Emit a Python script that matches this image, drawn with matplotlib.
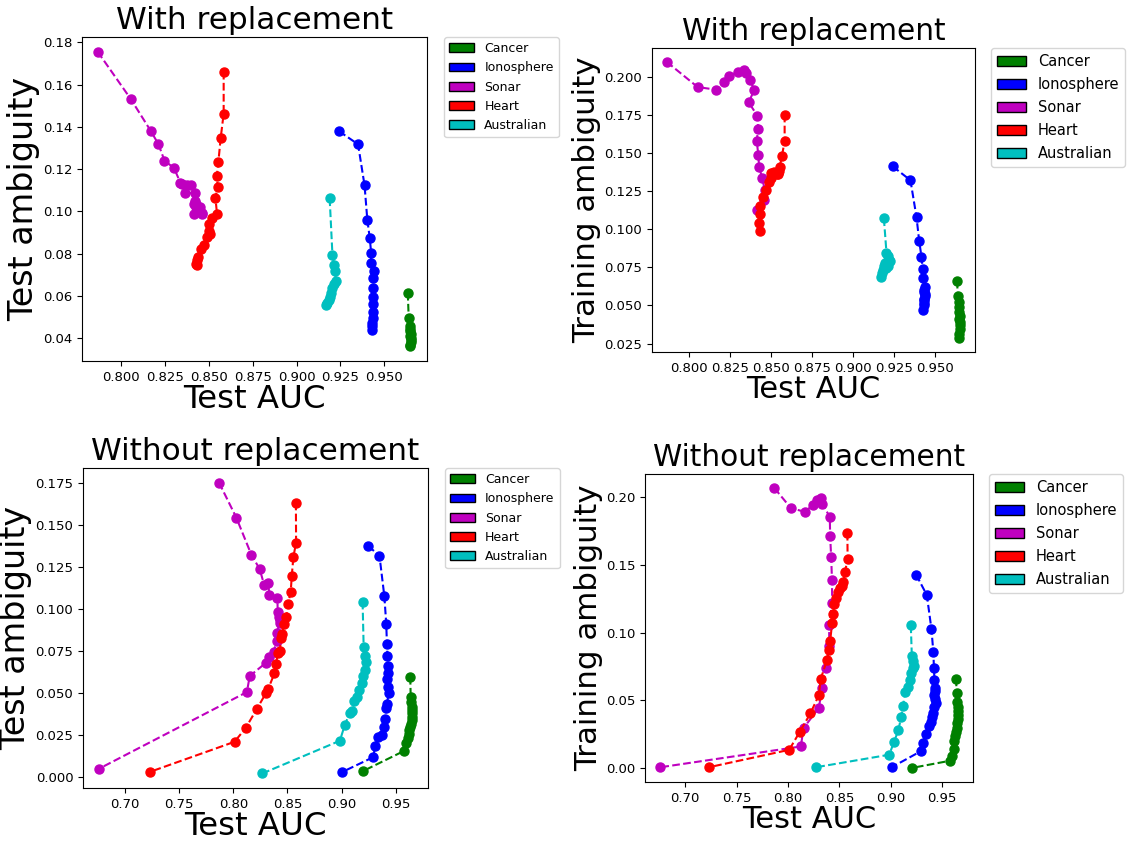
import matplotlib
matplotlib.use("Agg")
import matplotlib.pyplot as plt
import matplotlib.patches as mpatches

# ---- With replacement: test AUC, test ambiguity, training ambiguity ----
cancer_auc_wr = [0.9635, 0.9640, 0.9645, 0.9648, 0.9650, 0.9652, 0.9650, 0.9652, 0.9655, 0.9652, 0.9650, 0.9648]
cancer_test_wr = [0.0615, 0.0495, 0.0460, 0.0445, 0.0432, 0.0420, 0.0410, 0.0400, 0.0390, 0.0380, 0.0370, 0.0362]
cancer_train_wr = [0.0662, 0.0561, 0.0520, 0.0490, 0.0460, 0.0430, 0.0410, 0.0390, 0.0370, 0.0345, 0.0315, 0.0285]

iono_auc_wr = [0.9242, 0.9351, 0.9388, 0.9404, 0.9418, 0.9426, 0.9425, 0.9440, 0.9436, 0.9434, 0.9437,
               0.9438, 0.9434, 0.9436, 0.9433, 0.9432, 0.9430]
iono_test_wr = [0.1380, 0.1318, 0.1124, 0.0960, 0.0873, 0.0802, 0.0757, 0.0719, 0.0683, 0.0636, 0.0596,
                0.0561, 0.0525, 0.0498, 0.0470, 0.0457, 0.0438]
iono_train_wr = [0.1414, 0.1322, 0.1079, 0.0926, 0.0821, 0.0740, 0.0677, 0.0622, 0.0600, 0.0590, 0.0575,
                 0.0565, 0.0545, 0.0535, 0.0515, 0.0504, 0.0469]

sonar_auc_wr = [0.7865, 0.8054, 0.8168, 0.8212, 0.8246, 0.8301, 0.8337, 0.8349, 0.8373, 0.8399, 0.8365,
                0.8418, 0.8422, 0.8414, 0.8424, 0.8428, 0.8448, 0.8462, 0.8460, 0.8414]
sonar_test_wr = [0.1756, 0.1532, 0.1381, 0.1318, 0.1241, 0.1205, 0.1136, 0.1130, 0.1126, 0.1126, 0.1086,
                 0.1089, 0.1051, 0.1035, 0.1022, 0.1035, 0.1022, 0.0988, 0.0995, 0.0988]
sonar_train_wr = [0.2100, 0.1934, 0.1917, 0.1965, 0.2010, 0.2033, 0.2048, 0.2026, 0.1978, 0.1917, 0.1833,
                  0.1746, 0.1659, 0.1578, 0.1486, 0.1410, 0.1335, 0.1261, 0.1191, 0.1130]

heart_auc_wr = [0.8584, 0.8584, 0.8567, 0.8554, 0.8545, 0.8550, 0.8537, 0.8546, 0.8518, 0.8498, 0.8498,
                0.8508, 0.8489, 0.8470, 0.8455, 0.8436, 0.8432, 0.8428, 0.8434]
heart_test_wr = [0.1661, 0.1463, 0.1348, 0.1236, 0.1167, 0.1117, 0.1065, 0.0988, 0.0971, 0.0941, 0.0907,
                 0.0892, 0.0878, 0.0841, 0.0824, 0.0786, 0.0770, 0.0750, 0.0746]
heart_train_wr = [0.1753, 0.1578, 0.1479, 0.1410, 0.1370, 0.1385, 0.1365, 0.1360, 0.1377, 0.1370, 0.1340,
                  0.1355, 0.1309, 0.1261, 0.1213, 0.1156, 0.1103, 0.1042, 0.0992]

aus_auc_wr = [0.9189, 0.9205, 0.9216, 0.9220, 0.9224, 0.9212, 0.9205, 0.9197, 0.9190, 0.9183, 0.9175, 0.9170]
aus_test_wr = [0.1062, 0.0792, 0.0745, 0.0719, 0.0672, 0.0656, 0.0636, 0.0612, 0.0595, 0.0580, 0.0568, 0.0558]
aus_train_wr = [0.1072, 0.0845, 0.0823, 0.0800, 0.0790, 0.0757, 0.0747, 0.0780, 0.0760, 0.0736, 0.0710, 0.0688]

# ---- Without replacement ----
cancer_auc_nr = [0.9636, 0.9640, 0.9645, 0.9650, 0.9655, 0.9655, 0.9652, 0.9648, 0.9642, 0.9635, 0.9628,
                 0.9620, 0.9611, 0.9595, 0.9580, 0.9202]
cancer_test_nr = [0.0597, 0.0475, 0.0450, 0.0420, 0.0400, 0.0380, 0.0360, 0.0341, 0.0320, 0.0301, 0.0280,
                  0.0261, 0.0232, 0.0202, 0.0158, 0.0039]
cancer_train_nr = [0.0662, 0.0553, 0.0485, 0.0450, 0.0420, 0.0390, 0.0362, 0.0330, 0.0300, 0.0270, 0.0239,
                   0.0200, 0.0140, 0.0090, 0.0055, 0.0001]

iono_auc_nr = [0.9246, 0.9351, 0.9396, 0.9414, 0.9420, 0.9425, 0.9432, 0.9430, 0.9424, 0.9432, 0.9436,
               0.9420, 0.9414, 0.9400, 0.9390, 0.9375, 0.9340, 0.9310, 0.9295, 0.9008]
iono_test_nr = [0.1374, 0.1316, 0.1077, 0.0911, 0.0792, 0.0722, 0.0661, 0.0618, 0.0582, 0.0538, 0.0499,
                0.0436, 0.0410, 0.0345, 0.0301, 0.0250, 0.0241, 0.0186, 0.0121, 0.0033]
iono_train_nr = [0.1430, 0.1278, 0.1025, 0.0858, 0.0743, 0.0651, 0.0595, 0.0570, 0.0540, 0.0509, 0.0478,
                 0.0448, 0.0410, 0.0379, 0.0340, 0.0312, 0.0251, 0.0185, 0.0126, 0.0006]

sonar_auc_nr = [0.7867, 0.8027, 0.8166, 0.8243, 0.8285, 0.8323, 0.8332, 0.8407, 0.8410, 0.8420, 0.8428,
                0.8430, 0.8400, 0.8402, 0.8372, 0.8332, 0.8300, 0.8151, 0.8125, 0.6754]
sonar_test_nr = [0.1750, 0.1542, 0.1322, 0.1237, 0.1142, 0.1156, 0.1081, 0.1065, 0.0984, 0.0954, 0.0935,
                 0.0915, 0.0859, 0.0811, 0.0746, 0.0716, 0.0680, 0.0602, 0.0507, 0.0051]
sonar_train_nr = [0.2069, 0.1922, 0.1892, 0.1946, 0.1978, 0.1996, 0.1954, 0.1856, 0.1718, 0.1561, 0.1393,
                  0.1222, 0.1057, 0.0902, 0.0743, 0.0590, 0.0445, 0.0295, 0.0160, 0.0006]

heart_auc_nr = [0.8578, 0.8580, 0.8555, 0.8540, 0.8530, 0.8505, 0.8490, 0.8470, 0.8450, 0.8440, 0.8430,
                0.8410, 0.8395, 0.8380, 0.8320, 0.8300, 0.8218, 0.8115, 0.8011, 0.7227]
heart_test_nr = [0.1631, 0.1394, 0.1309, 0.1196, 0.1099, 0.1029, 0.0954, 0.0911, 0.0851, 0.0826, 0.0752,
                 0.0737, 0.0673, 0.0618, 0.0523, 0.0499, 0.0408, 0.0295, 0.0212, 0.0033]
heart_train_nr = [0.1738, 0.1548, 0.1447, 0.1374, 0.1344, 0.1332, 0.1300, 0.1260, 0.1209, 0.1140, 0.1074,
                  0.0937, 0.0870, 0.0799, 0.0662, 0.0539, 0.0404, 0.0268, 0.0135, 0.0006]

aus_auc_nr = [0.9195, 0.9205, 0.9215, 0.9225, 0.9215, 0.9200, 0.9185, 0.9165, 0.9140, 0.9120, 0.9100,
              0.9075, 0.9030, 0.8985, 0.8268]
aus_test_nr = [0.1043, 0.0772, 0.0720, 0.0683, 0.0640, 0.0600, 0.0560, 0.0519, 0.0475, 0.0455, 0.0396,
               0.0380, 0.0311, 0.0218, 0.0024]
aus_train_nr = [0.1054, 0.0828, 0.0791, 0.0754, 0.0743, 0.0700, 0.0651, 0.0600, 0.0563, 0.0460, 0.0374,
                0.0283, 0.0190, 0.0099, 0.0006]

dataset_names = ["Cancer", "Ionosphere", "Sonar", "Heart", "Australian"]
dataset_colors = ["g", "b", "m", "r", "c"]

W, H = 1127, 843

# Left panels came out a bit larger than the right ones in the original
left_fonts = {"title": 22.4, "xlabel": 23.3, "ylabel": 24.0, "legend": 9.0, "spacing": 0.5}
right_fonts = {"title": 21.3, "xlabel": 22.0, "ylabel": 22.2, "legend": 10.5, "spacing": 0.55}


def px_axes(fig, left, top, right, bottom):
    # Axes placed from pixel box of the reference
    return fig.add_axes([left / W, 1 - bottom / H, (right - left) / W, (bottom - top) / H])


def draw_panel(ax, aucs, ambs, title, ylabel, fonts):
    for x, y, c in zip(aucs, ambs, dataset_colors):
        ax.plot(x, y, "--o", color=c, markersize=6.5, linewidth=1.5)
    ax.set_title(title, fontsize=fonts["title"])
    ax.set_xlabel("Test AUC", fontsize=fonts["xlabel"], labelpad=0)
    ax.set_ylabel(ylabel, fontsize=fonts["ylabel"], labelpad=2)
    ax.tick_params(labelsize=9.5)
    handles = [mpatches.Patch(facecolor=c, edgecolor="black", label=n)
               for n, c in zip(dataset_names, dataset_colors)]
    ax.legend(handles=handles, loc="upper left", bbox_to_anchor=(1.05, 1),
              borderaxespad=0, fontsize=fonts["legend"], labelspacing=fonts["spacing"])


fig = plt.figure(figsize=(W / 100, H / 100), dpi=100)

ax1 = px_axes(fig, 82, 37, 427, 361)
draw_panel(ax1,
           [cancer_auc_wr, iono_auc_wr, sonar_auc_wr, heart_auc_wr, aus_auc_wr],
           [cancer_test_wr, iono_test_wr, sonar_test_wr, heart_test_wr, aus_test_wr],
           "With replacement", "Test ambiguity", left_fonts)

ax2 = px_axes(fig, 652, 48, 975, 352)
draw_panel(ax2,
           [cancer_auc_wr, iono_auc_wr, sonar_auc_wr, heart_auc_wr, aus_auc_wr],
           [cancer_train_wr, iono_train_wr, sonar_train_wr, heart_train_wr, aus_train_wr],
           "With replacement", "Training ambiguity", right_fonts)

ax3 = px_axes(fig, 83, 468, 428, 788)
draw_panel(ax3,
           [cancer_auc_nr, iono_auc_nr, sonar_auc_nr, heart_auc_nr, aus_auc_nr],
           [cancer_test_nr, iono_test_nr, sonar_test_nr, heart_test_nr, aus_test_nr],
           "Without replacement", "Test ambiguity", left_fonts)

ax4 = px_axes(fig, 645, 474, 973, 782)
draw_panel(ax4,
           [cancer_auc_nr, iono_auc_nr, sonar_auc_nr, heart_auc_nr, aus_auc_nr],
           [cancer_train_nr, iono_train_nr, sonar_train_nr, heart_train_nr, aus_train_nr],
           "Without replacement", "Training ambiguity", right_fonts)

plt.savefig("out.png", dpi=100)
